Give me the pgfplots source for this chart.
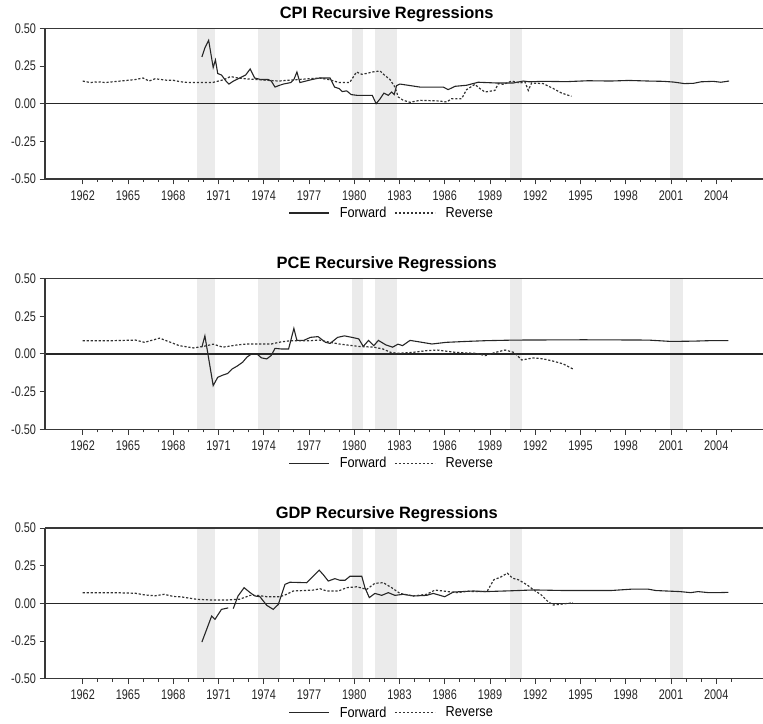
\documentclass[border=0pt]{standalone}
\usepackage{fontspec}
\setmainfont{Liberation Sans}
\newfontfamily\narrowfont[FakeStretch=0.78]{Liberation Sans}
\newfontfamily\legfont[FakeStretch=0.88]{Liberation Sans}
\usepackage{pgfplots}
\usepackage{pgfplotstable}
\pgfplotsset{compat=1.18}

\pgfplotstableread{
x y
1969.90 0.31
1970.10 0.37
1970.35 0.42
1970.55 0.30
1970.65 0.24
1970.80 0.29
1970.95 0.20
1971.20 0.19
1971.50 0.15
1971.70 0.13
1972.00 0.15
1972.40 0.17
1972.80 0.19
1973.10 0.23
1973.40 0.17
1973.80 0.16
1974.30 0.16
1974.50 0.15
1974.75 0.11
1975.00 0.12
1975.30 0.13
1975.80 0.14
1976.00 0.16
1976.20 0.21
1976.40 0.14
1976.80 0.15
1977.20 0.16
1977.70 0.17
1978.40 0.17
1978.70 0.11
1979.00 0.10
1979.20 0.08
1979.50 0.085
1979.80 0.06
1980.20 0.055
1980.60 0.055
1981.20 0.055
1981.45 0.00
1981.70 0.03
1981.97 0.07
1982.26 0.055
1982.48 0.077
1982.65 0.06
1982.81 0.12
1983.03 0.13
1984.36 0.11
1985.90 0.11
1986.23 0.093
1986.68 0.115
1987.45 0.122
1988.22 0.142
1989.44 0.137
1990.54 0.137
1991.20 0.15
1991.60 0.145
1992.50 0.148
1994.08 0.146
1995.50 0.152
1997.00 0.150
1998.20 0.154
1999.50 0.150
2000.50 0.148
2001.20 0.143
2001.90 0.133
2002.50 0.135
2003.00 0.145
2003.80 0.148
2004.30 0.142
2004.85 0.150
}\cpiF

\pgfplotstableread{
x y
1962.00 0.15
1962.50 0.14
1963.00 0.145
1963.50 0.14
1964.00 0.145
1964.50 0.15
1965.00 0.155
1965.50 0.16
1966.00 0.17
1966.40 0.15
1966.80 0.165
1967.20 0.16
1967.60 0.155
1968.00 0.155
1968.50 0.145
1969.00 0.14
1969.50 0.14
1970.00 0.14
1970.60 0.14
1971.00 0.15
1971.40 0.16
1971.80 0.18
1972.30 0.17
1972.80 0.165
1973.50 0.16
1974.20 0.155
1975.00 0.15
1975.60 0.155
1976.30 0.16
1977.00 0.165
1977.70 0.17
1978.30 0.16
1979.00 0.14
1979.70 0.14
1980.15 0.21
1980.50 0.195
1980.80 0.20
1981.20 0.21
1981.71 0.217
1982.00 0.19
1982.37 0.16
1982.70 0.11
1982.92 0.044
1983.25 0.022
1983.70 0.009
1984.36 0.022
1985.00 0.020
1985.60 0.018
1986.13 0.011
1986.46 0.033
1987.12 0.033
1987.45 0.093
1988.00 0.128
1988.33 0.10
1988.67 0.077
1989.33 0.088
1989.55 0.133
1989.90 0.128
1990.44 0.15
1990.99 0.137
1991.32 0.144
1991.54 0.088
1991.76 0.137
1992.53 0.133
1993.20 0.10
1993.75 0.07
1994.40 0.049
}\cpiR

\pgfplotstableread{
x y
1969.90 0.045
1970.10 0.12
1970.65 -0.21
1970.95 -0.155
1971.30 -0.14
1971.60 -0.13
1971.90 -0.10
1972.25 -0.08
1972.60 -0.055
1972.90 -0.02
1973.20 0.00
1973.55 0.00
1973.85 -0.026
1974.20 -0.033
1974.50 -0.01
1974.75 0.037
1975.15 0.033
1975.65 0.033
1976.00 0.17
1976.20 0.09
1976.65 0.09
1977.10 0.11
1977.60 0.115
1978.10 0.077
1978.40 0.07
1978.90 0.11
1979.35 0.12
1979.85 0.11
1980.30 0.10
1980.60 0.05
1980.95 0.09
1981.30 0.055
1981.60 0.09
1982.10 0.06
1982.55 0.045
1982.90 0.065
1983.20 0.055
1983.70 0.09
1984.50 0.077
1985.15 0.066
1986.10 0.077
1987.40 0.083
1988.70 0.088
1990.60 0.092
1993.00 0.093
1995.20 0.094
1997.50 0.093
1999.50 0.092
2001.00 0.083
2002.50 0.085
2003.50 0.088
2004.80 0.088
}\pceF

\pgfplotstableread{
x y
1962.00 0.088
1963.00 0.088
1964.00 0.088
1965.50 0.092
1966.10 0.077
1967.10 0.105
1967.75 0.08
1968.40 0.055
1969.35 0.04
1970.00 0.05
1970.65 0.065
1971.30 0.045
1972.25 0.06
1972.90 0.066
1974.50 0.066
1975.15 0.08
1975.80 0.088
1977.10 0.088
1977.70 0.092
1978.40 0.077
1979.00 0.066
1980.30 0.05
1981.30 0.045
1981.90 0.033
1982.40 0.011
1982.90 0.004
1983.85 0.01
1984.80 0.022
1985.50 0.026
1986.75 0.01
1988.05 0.004
1988.70 -0.011
1989.35 0.01
1990.00 0.026
1990.60 0.01
1991.10 -0.04
1991.90 -0.026
1992.55 -0.033
1993.20 -0.048
1993.85 -0.066
1994.50 -0.10
}\pceR

\pgfplotstableread{
x y
1969.90 -0.257
1970.55 -0.084
1970.77 -0.106
1971.20 -0.04
1971.65 -0.03
1971.80 nan
1971.98 -0.035
1972.30 0.049
1972.70 0.104
1973.10 0.071
1973.42 0.049
1973.75 0.044
1974.20 -0.013
1974.63 -0.04
1974.97 -0.007
1975.41 0.126
1975.74 0.14
1976.85 0.137
1977.18 0.17
1977.68 0.22
1977.95 0.19
1978.28 0.148
1978.72 0.164
1979.05 0.153
1979.39 0.153
1979.72 0.18
1980.50 0.18
1980.71 0.104
1981.00 0.038
1981.37 0.066
1981.82 0.053
1982.26 0.071
1982.70 0.053
1983.25 0.06
1983.92 0.049
1984.80 0.053
1985.24 0.066
1986.00 0.044
1986.57 0.075
1987.90 0.082
1988.70 0.078
1990.30 0.083
1991.90 0.089
1994.00 0.085
1997.00 0.085
1998.35 0.094
1999.50 0.094
2000.00 0.085
2001.60 0.078
2002.30 0.071
2002.80 0.078
2003.50 0.071
2004.10 0.071
2004.80 0.073
}\gdpF

\pgfplotstableread{
x y
1962.00 0.071
1963.50 0.071
1964.00 0.071
1965.50 0.067
1966.10 0.056
1966.80 0.05
1967.40 0.06
1968.05 0.045
1968.45 0.044
1969.56 0.027
1970.50 0.022
1971.50 0.022
1972.40 0.027
1973.10 0.053
1973.60 0.053
1974.20 0.044
1975.08 0.044
1975.52 0.06
1975.96 0.082
1977.29 0.088
1977.73 0.097
1978.17 0.082
1978.95 0.082
1979.50 0.104
1980.16 0.11
1980.83 0.093
1981.37 0.133
1981.93 0.137
1982.48 0.104
1983.03 0.066
1983.92 0.049
1984.80 0.06
1985.35 0.088
1985.90 0.082
1986.79 0.071
1987.50 0.08
1988.05 0.078
1988.80 0.078
1989.25 0.156
1989.70 0.174
1990.15 0.20
1990.50 0.167
1990.90 0.156
1991.45 0.123
1991.90 0.089
1992.40 0.056
1992.85 0.011
1993.20 -0.011
1993.85 -0.004
1994.50 0.004
}\gdpR

\pgfplotsset{
  panel/.style={
    scale only axis, width=718bp, height=150.7bp,
    xmin=1959.5, xmax=2007.1, ymin=-0.5, ymax=0.5,
    axis x line=box, axis y line=left,
    axis line style={-, black!78, line width=1.3bp},
    axis on top,
    unbounded coords=jump,
    tick align=outside,
    xtick pos=bottom, ytick pos=left,
    major tick length=5.5bp, minor tick length=3bp,
    tick style={black!78, line width=0.9bp},
    xtick={1962,1965,...,2004},
    xticklabels={1962,1965,1968,1971,1974,1977,1980,1983,1986,1989,1992,1995,1998,2001,2004},
    minor xtick={1963,1964,1966,1967,1969,1970,1972,1973,1975,1976,1978,1979,1981,1982,1984,1985,1987,1988,1990,1991,1993,1994,1996,1997,1999,2000,2002,2003,2005},
    ytick={-0.5,-0.25,0,0.25,0.5},
    yticklabels={-0.50,-0.25,0.00,0.25,0.50},
    ticklabel style={font=\narrowfont\fontsize{14}{15}\selectfont, text=black!85},
    xticklabel style={yshift=-2.5bp},
    title style={at={(0.476,1)}, anchor=center, yshift=8bp,
      font=\bfseries\fontsize{16.5}{18}\selectfont},
    legend style={at={(0.483,-0.2256)}, anchor=center, draw=none, fill=none,
      font=\legfont\fontsize{14.5}{16}\selectfont,
      /tikz/every odd column/.append style={column sep=8bp},
      /tikz/every even column/.append style={column sep=6bp}},
    legend columns=2,
    legend image code/.code={\draw[##1] (0bp,0bp) -- (40bp,0bp);},
  },
  fwd/.style={black!85, line width=1.1bp},
  rev/.style={black!80, line width=1.2bp, dash pattern=on 2.2bp off 1.8bp},
  band/.style={fill=black!8, draw=none, forget plot},
}

\newcommand{\recessions}{%
  \addplot[band] coordinates {(1969.58,-0.5) (1969.58,0.5) (1970.78,0.5) (1970.78,-0.5)};
  \addplot[band] coordinates {(1973.61,-0.5) (1973.61,0.5) (1975.06,0.5) (1975.06,-0.5)};
  \addplot[band] coordinates {(1979.84,-0.5) (1979.84,0.5) (1980.58,0.5) (1980.58,-0.5)};
  \addplot[band] coordinates {(1981.36,-0.5) (1981.36,0.5) (1982.84,0.5) (1982.84,-0.5)};
  \addplot[band] coordinates {(1990.33,-0.5) (1990.33,0.5) (1991.13,0.5) (1991.13,-0.5)};
  \addplot[band] coordinates {(2000.95,-0.5) (2000.95,0.5) (2001.82,0.5) (2001.82,-0.5)};
  \addplot[black!85, line width=1.2bp, forget plot] coordinates {(1959.5,0) (2007.1,0)};
}

\begin{document}
\begin{tikzpicture}
\path[use as bounding box] (0,0) rectangle (763bp,724bp);

\begin{axis}[panel, at={(45bp,545bp)}, anchor=south west, title={CPI Recursive Regressions}]
\recessions
\addplot[fwd] table[x=x,y=y] {\cpiF};
\addplot[rev] table[x=x,y=y] {\cpiR};
\legend{Forward,Reverse}
\end{axis}

\begin{axis}[panel, at={(45bp,294.7bp)}, anchor=south west, title={PCE Recursive Regressions}]
\recessions
\addplot[fwd] table[x=x,y=y] {\pceF};
\addplot[rev] table[x=x,y=y] {\pceR};
\legend{Forward,Reverse}
\end{axis}

\begin{axis}[panel, at={(45bp,45.3bp)}, anchor=south west, title={GDP Recursive Regressions}]
\recessions
\addplot[fwd] table[x=x,y=y] {\gdpF};
\addplot[rev] table[x=x,y=y] {\gdpR};
\legend{Forward,Reverse}
\end{axis}
\end{tikzpicture}
\end{document}
